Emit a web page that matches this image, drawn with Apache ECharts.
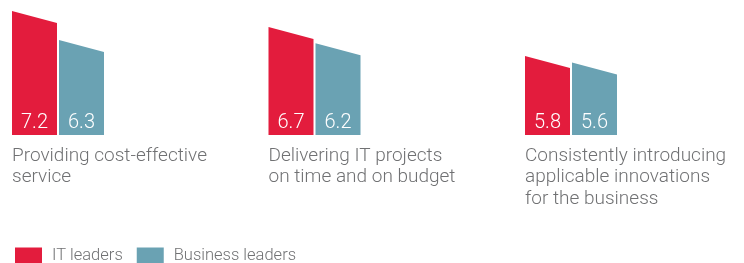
<!DOCTYPE html>
<html>
<head>
<meta charset="utf-8">
<script src="https://cdn.jsdelivr.net/npm/echarts@6/dist/echarts.min.js"></script>
<style>
html, body { margin: 0; padding: 0; background: #fff; }
#chart { width: 744px; height: 263px; }
</style>
</head>
<body>
<div id="chart"></div>
<script>
var categories = [
    'Providing cost-effective\nservice',
    'Delivering IT projects\non time and on budget',
    'Consistently introducing\napplicable innovations\nfor the business'
];
var itLeaders = [7.2, 6.7, 5.8];
var businessLeaders = [6.3, 6.2, 5.6];
var seriesNames = ['IT leaders', 'Business leaders'];

var Y_MIN = 3.35;
var Y_MAX = 7.54;
var BAR_W = 45;
var SLANT = 12;
var FONT = 'Roboto';

function barRenderer(offset) {
    return function (params, api) {
        var top = api.coord([api.value(0), api.value(1)]);
        var base = api.coord([api.value(0), Y_MIN]);
        var l = top[0] + offset;
        var r = l + BAR_W;
        return {
            type: 'group',
            children: [
                {
                    type: 'polygon',
                    shape: { points: [[l, base[1]], [l, top[1]], [r, top[1] + SLANT], [r, base[1]]] },
                    style: { fill: api.visual('color') }
                },
                {
                    type: 'text',
                    style: {
                        text: api.value(1).toFixed(1),
                        x: (l + r) / 2,
                        y: base[1] - 12,
                        align: 'center',
                        verticalAlign: 'middle',
                        fill: '#fff',
                        fontSize: 20,
                        fontWeight: 300,
                        fontFamily: FONT
                    }
                }
            ]
        };
    };
}

window.onload = function(){
    var myChart = echarts.init(document.getElementById('chart'));
    var option = {
        animation: false,
        color: ['#e31c3d', '#6aa2b3'],
        legend: {
            left: 15,
            top: 247,
            padding: 0,
            itemWidth: 27,
            itemHeight: 16,
            itemGap: 14,
            icon: 'rect',
            textStyle: {
                color: '#707173',
                fontSize: 16.5,
                fontWeight: 300,
                fontFamily: FONT,
                padding: [0, 0, 0, 5]
            },
            data: seriesNames
        },
        grid: {
            left: 12,
            right: 219,
            top: 0,
            bottom: 128
        },
        xAxis: {
            type: 'category',
            boundaryGap: false,
            data: categories,
            axisLine: { show: false },
            axisTick: { show: false },
            axisLabel: {
                interval: 0,
                align: 'left',
                margin: 10,
                color: '#707173',
                fontSize: 19,
                fontWeight: 300,
                lineHeight: 21.5,
                fontFamily: FONT
            }
        },
        yAxis: {
            type: 'value',
            min: Y_MIN,
            max: Y_MAX,
            show: false
        },
        series: [
            {
                name: seriesNames[0],
                type: 'custom',
                renderItem: barRenderer(0),
                data: itLeaders.map(function (v, i) { return [i, v]; })
            },
            {
                name: seriesNames[1],
                type: 'custom',
                renderItem: barRenderer(BAR_W + 2),
                data: businessLeaders.map(function (v, i) { return [i, v]; })
            }
        ]
    };
    myChart.setOption(option);
    window.onresize = function () {
        myChart.resize();
    };
};
</script>
</body>
</html>
